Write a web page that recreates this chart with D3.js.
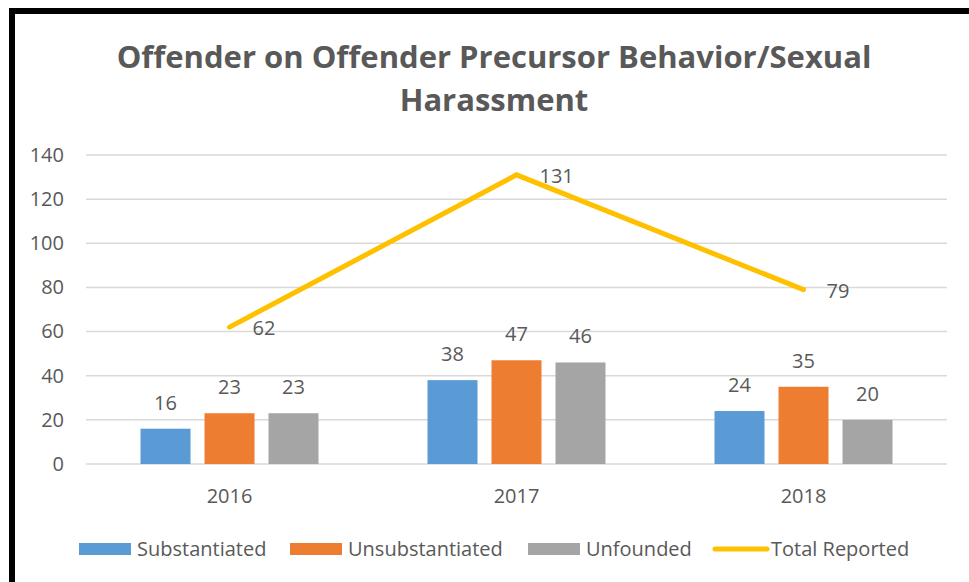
<!DOCTYPE html>
<html>
<head>
<meta charset="utf-8">
<script src="https://cdn.jsdelivr.net/npm/d3@7"></script>
<style>
  body { margin: 0; background: #fff; }
  svg text { font-family: "Open Sans", "Liberation Sans", sans-serif; fill: #595959; }
</style>
</head>
<body>
<svg id="chart"></svg>
<script>
const years = ["2016", "2017", "2018"];
const substantiated = [16, 38, 24];
const unsubstantiated = [23, 47, 35];
const unfounded = [23, 46, 20];
const totalReported = [62, 131, 79];
const yTicks = [0, 20, 40, 60, 80, 100, 120, 140];

const seriesNames = ["Substantiated", "Unsubstantiated", "Unfounded"];
const seriesColors = ["#5b9bd5", "#ed7d31", "#a5a5a5"];
const lineColor = "#ffc000";

const width = 969, height = 582;
const margin = { top: 155, right: 22, bottom: 118, left: 86 };

const svg = d3.select("#chart")
  .attr("width", width)
  .attr("height", height);

// black frame (top + left only)
svg.append("rect").attr("x", 9).attr("y", 8).attr("width", width - 9).attr("height", 6).attr("fill", "#000");
svg.append("rect").attr("x", 9).attr("y", 8).attr("width", 6).attr("height", height - 8).attr("fill", "#000");

// title
const title = svg.append("text")
  .attr("text-anchor", "middle")
  .attr("font-weight", "bold")
  .attr("font-size", 31)
  .attr("x", 494);
title.append("tspan").attr("x", 494).attr("y", 68).text("Offender on Offender Precursor Behavior/Sexual");
title.append("tspan").attr("x", 494).attr("y", 111).text("Harassment");

const x = d3.scaleBand()
  .domain(years)
  .range([margin.left, width - margin.right]);

const y = d3.scaleLinear()
  .domain([0, 140])
  .range([height - margin.bottom, margin.top]);

// gridlines
svg.append("g")
  .selectAll("line")
  .data(yTicks)
  .join("line")
    .attr("x1", margin.left)
    .attr("x2", width - margin.right)
    .attr("y1", d => y(d))
    .attr("y2", d => y(d))
    .attr("stroke", "#d9d9d9")
    .attr("stroke-width", 1.5);

// y axis labels
const yAxis = svg.append("g")
  .attr("transform", `translate(${margin.left}, 0)`)
  .call(d3.axisLeft(y).tickValues(yTicks).tickSize(0).tickPadding(22));
yAxis.select(".domain").remove();
yAxis.selectAll("text").attr("font-size", 20).attr("font-family", null).attr("fill", "#595959");

// x axis labels
const xAxis = svg.append("g")
  .attr("transform", `translate(0, ${height - margin.bottom})`)
  .call(d3.axisBottom(x).tickSize(0).tickPadding(25));
xAxis.select(".domain").remove();
xAxis.selectAll("text").attr("font-size", 20).attr("font-family", null).attr("fill", "#595959");

// bars
const barW = 50, barStep = 64;
const seriesData = [substantiated, unsubstantiated, unfounded];
seriesData.forEach((vals, s) => {
  const g = svg.append("g");
  g.selectAll("rect")
    .data(vals)
    .join("rect")
      .attr("x", (d, i) => x(years[i]) + x.bandwidth() / 2 + (s - 1) * barStep - barW / 2)
      .attr("y", d => y(d))
      .attr("width", barW)
      .attr("height", d => y(0) - y(d))
      .attr("fill", seriesColors[s]);
  g.selectAll("text")
    .data(vals)
    .join("text")
      .attr("x", (d, i) => x(years[i]) + x.bandwidth() / 2 + (s - 1) * barStep)
      .attr("y", d => y(d) - 19)
      .attr("text-anchor", "middle")
      .attr("font-size", 20)
      .text(d => d);
});

// total reported line
const line = d3.line()
  .x((d, i) => x(years[i]) + x.bandwidth() / 2)
  .y(d => y(d));
svg.append("path")
  .datum(totalReported)
  .attr("d", line)
  .attr("fill", "none")
  .attr("stroke", lineColor)
  .attr("stroke-width", 5)
  .attr("stroke-linecap", "round")
  .attr("stroke-linejoin", "miter");

svg.append("g")
  .selectAll("text")
  .data(totalReported)
  .join("text")
    .attr("x", (d, i) => x(years[i]) + x.bandwidth() / 2 + 23)
    .attr("y", d => y(d) + 8)
    .attr("font-size", 20)
    .text(d => d);

// legend
const legendItems = [
  { name: seriesNames[0], color: seriesColors[0], type: "rect", x: 79 },
  { name: seriesNames[1], color: seriesColors[1], type: "rect", x: 290 },
  { name: seriesNames[2], color: seriesColors[2], type: "rect", x: 528 },
  { name: "Total Reported", color: lineColor, type: "line", x: 713 }
];
const legend = svg.append("g").attr("transform", "translate(0, 549)");
legendItems.forEach(item => {
  if (item.type === "rect") {
    legend.append("rect")
      .attr("x", item.x).attr("y", -6).attr("width", 52).attr("height", 12)
      .attr("fill", item.color);
  } else {
    legend.append("line")
      .attr("x1", item.x + 2).attr("x2", item.x + 54).attr("y1", 0).attr("y2", 0)
      .attr("stroke", item.color).attr("stroke-width", 5).attr("stroke-linecap", "round");
  }
  legend.append("text")
    .attr("x", item.x + 58)
    .attr("y", 7)
    .attr("font-size", 20)
    .text(item.name);
});
</script>
</body>
</html>
